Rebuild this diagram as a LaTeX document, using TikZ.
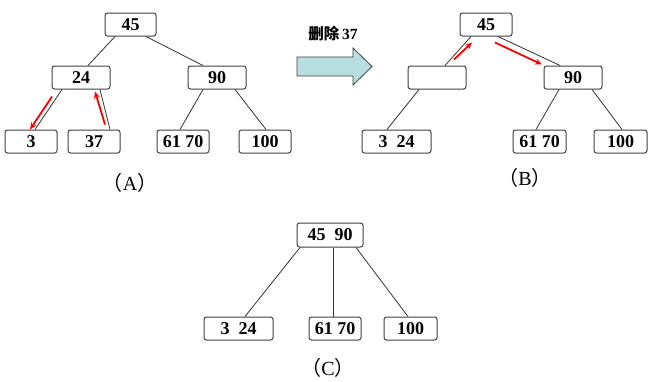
\documentclass[tikz,border=0pt]{standalone}
\usepackage{fontspec}
\setmainfont{Liberation Serif}
\newfontfamily\cjk{Noto Sans CJK SC}
\usetikzlibrary{arrows.meta}
\definecolor{boxline}{RGB}{64,64,64}
\definecolor{arrowfill}{RGB}{183,222,225}
\tikzset{
  keybox/.style={draw=boxline, line width=1pt, rounded corners=2.5pt, fill=white,
    minimum height=23pt, inner sep=0pt, font=\fontsize{18}{20}\selectfont\bfseries},
  link/.style={draw=boxline!80!black, line width=0.8pt},
  redarrow/.style={draw=red, line width=1.8pt, -{Stealth[length=7pt,width=6pt]}},
  caption/.style={font=\fontsize{20}{22}\selectfont, inner sep=1pt}
}
\begin{document}
\begin{tikzpicture}[x=1pt,y=-1pt]
\useasboundingbox (0,0) rectangle (652,381);
% ---------- (A) ----------
\node[keybox, minimum width=51pt] (a45) at (130.5,24.5) {45};
\node[keybox, minimum width=58pt] (a24) at (81,77.5) {24};
\node[keybox, minimum width=58pt] (a90) at (217,77.5) {90};
\node[keybox, minimum width=52pt] (a3) at (31,141.5) {3};
\node[keybox, minimum width=52pt] (a37) at (94,141.5) {37};
\node[keybox, minimum width=52pt] (a6170) at (183,141.5) {61 70};
\node[keybox, minimum width=52pt] (a100) at (265,141.5) {100};
\node[caption] (capA) at (130,183) {{\cjk （}A{\cjk ）}};
\draw[link] ([xshift=-15.5pt]a45.south) -- ([xshift=7pt]a24.north);
\draw[link] ([xshift=15.5pt]a45.south) -- ([xshift=-14pt]a90.north);
\draw[link] ([xshift=-19pt]a24.south) -- ([xshift=4pt]a3.north);
\draw[link] ([xshift=19pt]a24.south) -- ([xshift=16pt]a37.north);
\draw[link] ([xshift=-14pt]a90.south) -- ([xshift=-3pt]a6170.north);
\draw[link] ([xshift=18pt]a90.south) -- ([xshift=1pt]a100.north);
\draw[redarrow] ([xshift=-29pt,yshift=-7pt]a24.south) -- ([xshift=-1pt]a3.north);
\draw[redarrow] ([xshift=11pt,yshift=5pt]a37.north) -- ([xshift=14pt,yshift=-2pt]a24.south);
% ---------- block arrow ----------
\node[font=\fontsize{15.5}{18}\selectfont\bfseries] (lbl) at (333,33.5) {{\cjk 删除}\,37};
\draw[draw=boxline, line width=0.8pt, fill=arrowfill]
  (297,57) -- (353,57) -- (353,48) -- (372,66.5) -- (353,85) -- (353,76) -- (297,76) -- cycle;
% ---------- (B) ----------
\node[keybox, minimum width=52pt] (b45) at (486,24.5) {45};
\node[keybox, minimum width=58pt] (bempty) at (437,77.5) {};
\node[keybox, minimum width=58pt] (b90) at (573,77.5) {90};
\node[keybox, minimum width=69pt] (b324) at (396.5,141.5) {3\ \ 24};
\node[keybox, minimum width=53pt] (b6170) at (539.5,141.5) {61 70};
\node[keybox, minimum width=53pt] (b100) at (620.5,141.5) {100};
\node[caption] (capB) at (525,178) {{\cjk （}B{\cjk ）}};
\draw[link] ([xshift=-15pt]b45.south) -- ([xshift=8pt]bempty.north);
\draw[link] ([xshift=12pt]b45.south) -- ([xshift=-13pt]b90.north);
\draw[link] ([xshift=-18pt]bempty.south) -- ([xshift=-9.5pt]b324.north);
\draw[link] ([xshift=-14pt]b90.south) -- ([xshift=-3.5pt]b6170.north);
\draw[link] ([xshift=19pt]b90.south) -- ([xshift=1.5pt]b100.north);
\draw[redarrow] ([xshift=17pt,yshift=6pt]bempty.north) -- ([xshift=-14pt,yshift=-6pt]b45.south);
\draw[redarrow] ([xshift=9pt,yshift=-6pt]b45.south) -- ([xshift=-31pt,yshift=1pt]b90.north);
% ---------- (C) ----------
\node[keybox, minimum width=66pt, minimum height=24pt] (c4590) at (330,235) {45\ \ 90};
\node[keybox, minimum width=69pt] (c324) at (238.5,328.5) {3\ \ 24};
\node[keybox, minimum width=52pt] (c6170) at (335,328.5) {61 70};
\node[keybox, minimum width=53pt] (c100) at (410.5,328.5) {100};
\node[caption] (capC) at (328,367.5) {{\cjk （}C{\cjk ）}};
\draw[link] ([xshift=-30pt]c4590.south) -- ([xshift=6.5pt]c324.north);
\draw[link] ([xshift=3pt]c4590.south) -- ([xshift=-2pt]c6170.north);
\draw[link] ([xshift=26pt]c4590.south) -- ([xshift=-2.5pt]c100.north);
\end{tikzpicture}
\end{document}
